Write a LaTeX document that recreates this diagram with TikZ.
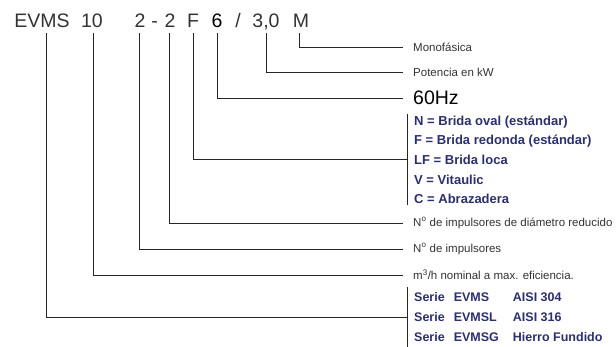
\documentclass[tikz,border=0pt]{standalone}
\usepackage{fontspec}
\setmainfont{Liberation Sans}
\usepackage{tikz}
\definecolor{navy}{HTML}{2B2F6E}
\definecolor{txtgray}{HTML}{333333}
\definecolor{linegray}{HTML}{262626}

\begin{document}
\begin{tikzpicture}[x=1pt, y=-1pt,
    code/.style={anchor=base, inner sep=0pt, outer ysep=6pt, text depth=0pt,
      text=txtgray, font=\fontsize{19.5}{22}\selectfont},
    desc/.style={anchor=west, inner ysep=0pt, inner xsep=10pt,
      text=txtgray, font=\fontsize{11.5}{14}\selectfont},
    list/.style={anchor=west, inner ysep=1pt, inner xsep=7pt, align=left,
      text=navy, font=\bfseries\fontsize{13}{19.6}\selectfont},
    lead/.style={draw=linegray, line width=0.9pt}]
    \useasboundingbox (0,0) rectangle (616,346);

    \def\codey{27}

    \node[code] (evms) at (42,\codey) {EVMS};
    \node[code] (ten) at (92,\codey) {10};
    \node[code] (twoa) at (140,\codey) {2};
    \node[code] (dash) at (154.5,\codey) {-};
    \node[code] (twob) at (170,\codey) {2};
    \node[code] (f) at (193,\codey) {F};
    \node[code, text=black] (six) at (217,\codey) {6};
    \node[code] (slash) at (238,\codey) {/};
    \node[code] (kw) at (266,\codey) {3,0};
    \node[code] (m) at (301,\codey) {M};

    \node[desc] (mono) at (403,47) {Monofásica};
    \node[desc] (power) at (403,72) {Potencia en kW};
    \node[desc, text=black, font=\fontsize{19.5}{22}\selectfont] (hz) at (403,98) {60Hz};
    \node[list] (flanges) at (407,159.7) {N = Brida oval (estándar)\\F = Brida redonda (estándar)\\LF = Brida loca\\V = Vitaulic\\C = Abrazadera};
    \node[desc] (reduced) at (403,223) {N\textsuperscript{o} de impulsores de diámetro reducido};
    \node[desc] (stages) at (403,249) {N\textsuperscript{o} de impulsores};
    \node[desc] (flow) at (403,275) {m\textsuperscript{3}/h nominal a max. eficiencia.};
    \node[list, inner ysep=0pt, font=\bfseries\fontsize{12.5}{20}\selectfont] (serie) at (407,317) {\begin{tabular}{@{}l@{\hspace{9pt}}l@{\hspace{14pt}}l@{}}
      Serie & EVMS & AISI 304\\
      Serie & EVMSL & AISI 316\\
      Serie & EVMSG & Hierro Fundido
    \end{tabular}};

    \draw[lead] (flanges.north west) -- (flanges.south west);
    \draw[lead] (serie.north west) -- (serie.south west);

    \draw[lead] ([xshift=-2pt]m.south) |- (mono);
    \draw[lead] (kw) |- (power);
    \draw[lead] (six) |- (hz);
    \draw[lead] (f) |- (flanges);
    \draw[lead] ([xshift=-1pt]twob.south) |- (reduced);
    \draw[lead] ([xshift=-1pt]twoa.south) |- (stages);
    \draw[lead] ([xshift=1pt]ten.south) |- (flow);
    \draw[lead] ([xshift=4pt]evms.south) |- (serie);
\end{tikzpicture}
\end{document}
